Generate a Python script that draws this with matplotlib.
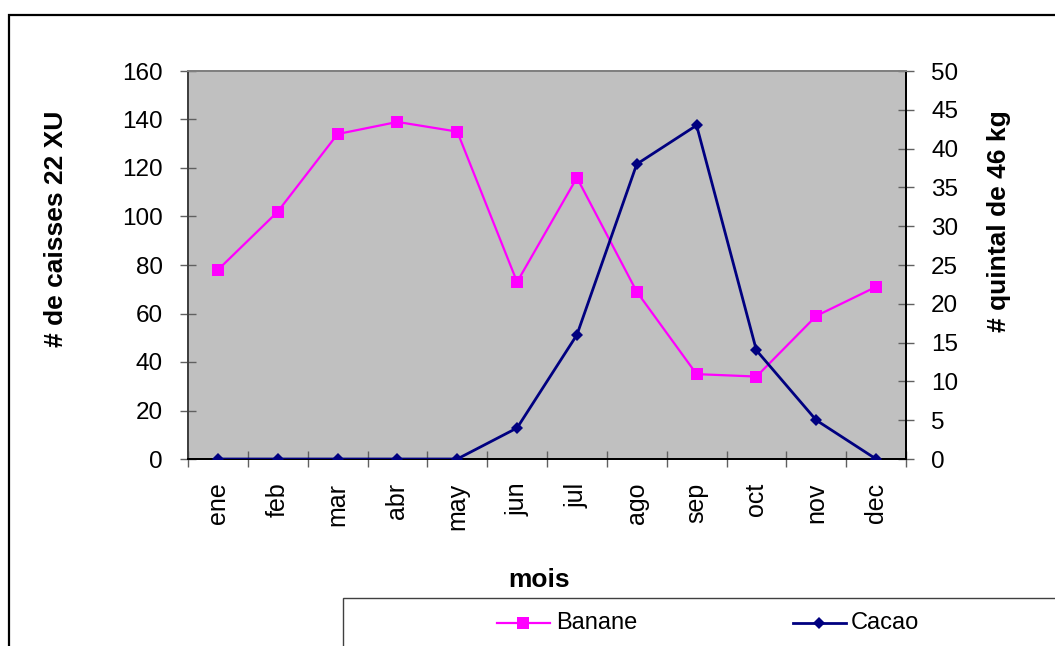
import matplotlib.pyplot as plt
from matplotlib.patches import Rectangle
from matplotlib.lines import Line2D

plt.rcParams['font.family'] = ['Liberation Sans', 'DejaVu Sans']

# monthly production
mois = ['ene', 'feb', 'mar', 'abr', 'may', 'jun', 'jul', 'ago', 'sep', 'oct', 'nov', 'dec']
banane = [78, 102, 134, 139, 135, 73, 116, 69, 35, 34, 59, 71]   # caisses 22 XU
cacao = [0, 0, 0, 0, 0, 4, 16, 38, 43, 14, 5, 0]                   # quintal de 46 kg

W, H = 1055, 646
fig = plt.figure(figsize=(W / 100, H / 100), dpi=100)

def px(x, y):
    return x / W, 1 - y / H

# outer chart frame (runs off the right and bottom edges)
fig.patches.append(Rectangle(px(9, 700), 1200 / W, 685 / H, transform=fig.transFigure,
                             fill=False, edgecolor='black', linewidth=1.6, zorder=0))

left, top, right, bottom = 188, 71, 906, 459
ax = fig.add_axes([left / W, 1 - bottom / H, (right - left) / W, (bottom - top) / H])
ax.set_facecolor('#C0C0C0')
ax2 = ax.twinx()

x = list(range(len(mois)))
ax.plot(x, banane, color='#FF00FF', lw=1.6, marker='s', ms=9, mew=0, zorder=3)
ax2.plot(x, cacao, color='#000080', lw=2, marker='D', ms=6.5, mew=0, zorder=3)

ax.set_xlim(-0.5, len(mois) - 0.5)
ax.set_ylim(0, 160)
ax2.set_ylim(0, 50)
ax.set_yticks(range(0, 161, 20))
ax2.set_yticks(range(0, 51, 5))

ax.set_xticks(x)
ax.set_xticklabels(mois, rotation=90, fontsize=18, va='top')
ax.set_xticks([i - 0.5 for i in range(len(mois) + 1)], minor=True)
ax.tick_params(axis='x', which='major', length=0, pad=17)
ax.tick_params(axis='x', which='minor', direction='inout', length=12, color='#606060', width=1)
ax.tick_params(axis='y', direction='inout', length=12, color='#606060', width=1,
               labelsize=17.5, pad=12)
ax2.tick_params(axis='y', direction='inout', length=12, color='#606060', width=1,
                labelsize=17.5, pad=12)

for a in (ax, ax2):
    a.spines['top'].set_color('#808080')
    a.spines['left'].set_color('#404040')
    a.spines['right'].set_color('black')
    a.spines['bottom'].set_color('black')
    for s in a.spines.values():
        s.set_linewidth(1.4)

# axis titles
fig.text(*px(56, 229), '# de caisses 22 XU', rotation=90, ha='center', va='center',
         fontsize=19, fontweight='bold')
fig.text(*px(999, 221), '# quintal de 46 kg', rotation=90, ha='center', va='center',
         fontsize=19, fontweight='bold')
fig.text(*px(539, 580), 'mois', ha='center', va='center', fontsize=19, fontweight='bold')

# legend box
fig.patches.append(Rectangle(px(343, 700), 800 / W, 102 / H, transform=fig.transFigure,
                             fill=False, edgecolor='#404040', linewidth=1.0, zorder=1))
ly = 623
fig.lines.append(Line2D([497 / W, 550 / W], [1 - ly / H] * 2, transform=fig.transFigure,
                        color='#FF00FF', lw=1.6))
fig.lines.append(Line2D([523 / W], [1 - ly / H], transform=fig.transFigure,
                        color='#FF00FF', marker='s', ms=9, mew=0, lw=0))
fig.text(*px(556, ly), 'Banane', ha='left', va='center', fontsize=17)
fig.lines.append(Line2D([793 / W, 846 / W], [1 - ly / H] * 2, transform=fig.transFigure,
                        color='#000080', lw=2))
fig.lines.append(Line2D([819 / W], [1 - ly / H], transform=fig.transFigure,
                        color='#000080', marker='D', ms=6.5, mew=0, lw=0))
fig.text(*px(851, ly), 'Cacao', ha='left', va='center', fontsize=17)

fig.savefig('out.png', dpi=100)
